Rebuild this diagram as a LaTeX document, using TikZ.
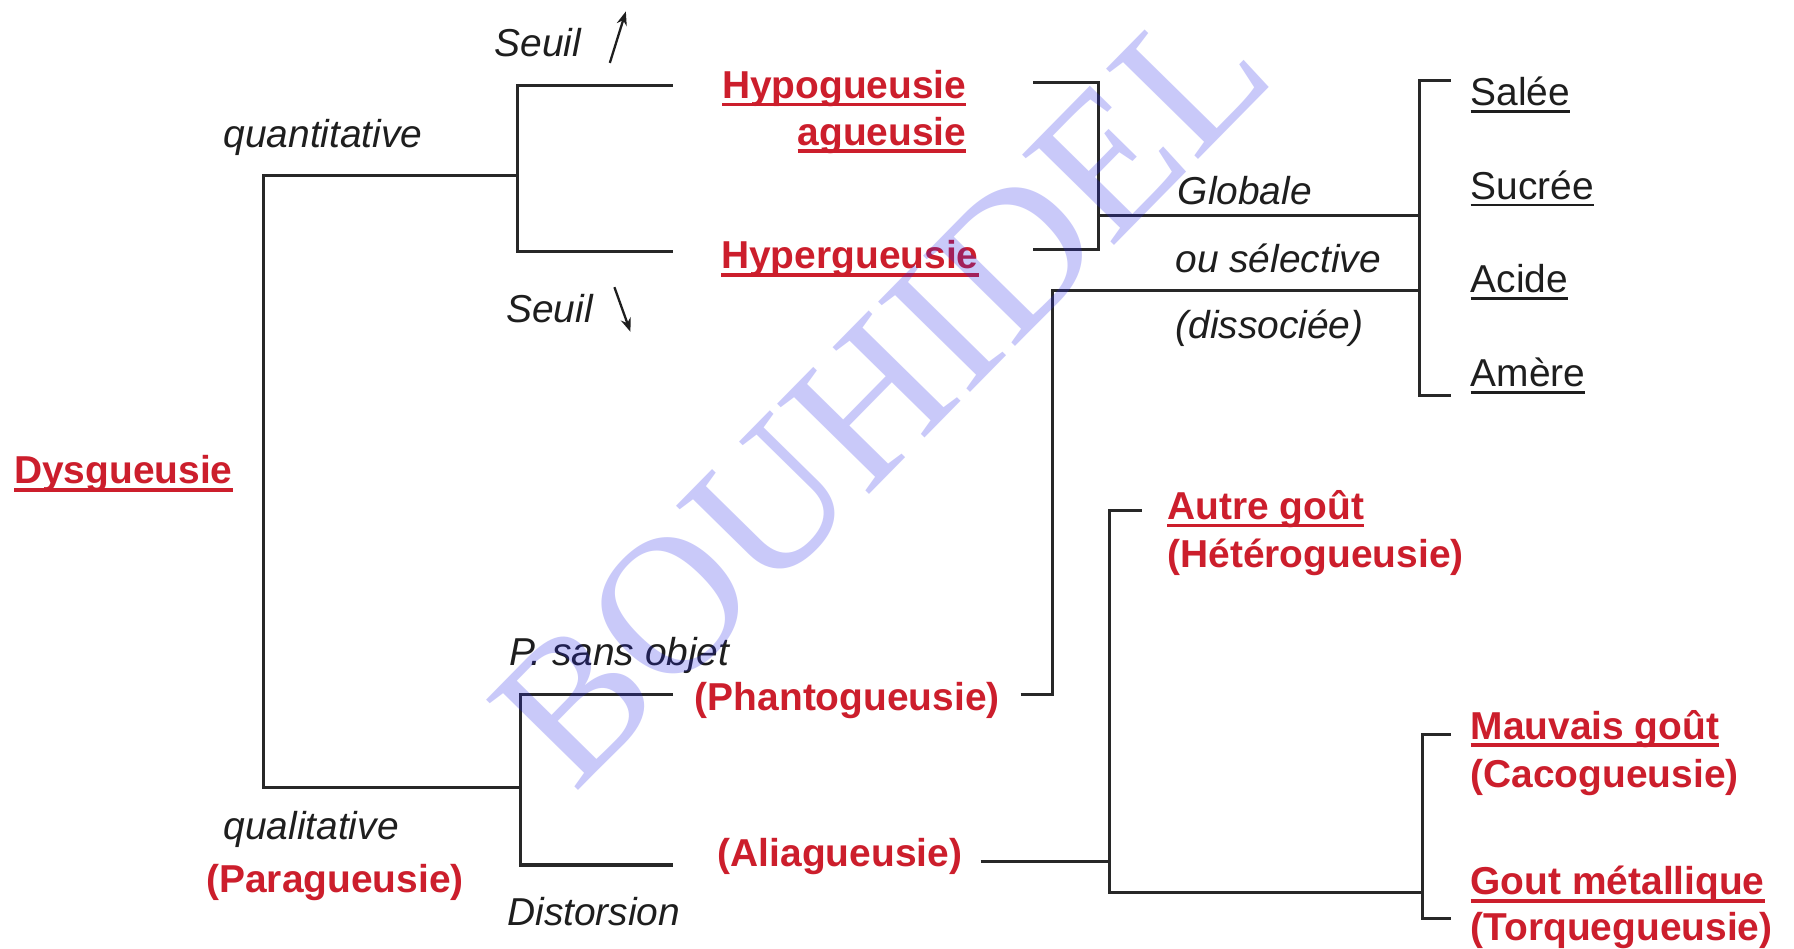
\documentclass[tikz,border=0pt]{standalone}
\usepackage{fontspec}
\setmainfont{Liberation Sans}
\newfontfamily\wmfont{Liberation Serif}
\usetikzlibrary{arrows.meta}
\definecolor{labred}{RGB}{204,30,44}
\definecolor{linegray}{RGB}{40,40,40}
\definecolor{txtgray}{RGB}{30,30,30}
\definecolor{wmblue}{RGB}{40,40,235}
% underlined words: the rule sits just under the baseline
\newcommand\ulred[1]{\setbox0=\hbox{#1}\rlap{\rule[-3.4pt]{\wd0}{1.6pt}}\box0}
\newcommand\ulblk[1]{\setbox0=\hbox{#1}\rlap{\rule[-3.2pt]{\wd0}{1.2pt}}\box0}
\begin{document}
\begin{tikzpicture}[x=0.5pt,y=-0.5pt,
  lbl/.style={inner sep=0pt, anchor=base west},
  note/.style={lbl, font=\fontsize{17}{20}\selectfont\itshape, text=txtgray},
  term/.style={lbl, font=\fontsize{17}{20}\selectfont\bfseries, text=labred},
  taste/.style={lbl, font=\fontsize{17}{20}\selectfont, text=txtgray},
  wire/.style={draw=linegray, line width=1.35pt},
  thresh/.style={draw=txtgray, line width=1pt, -{Stealth[length=6pt,width=4.5pt]}},
  ]
\fill[white] (0,0) rectangle (1568,829);
\useasboundingbox (0,0) rectangle (1568,829);

% ---- labels ----
\node[term] (dys) at (12,423) {\ulred{Dysgueusie}};
\node[note] (quant) at (195,129) {quantitative};
\node[note] (qual) at (195,734) {qualitative};
\node[term] (para) at (180,780) {(Paragueusie)};

\node[note] (seuilU) at (432,49) {Seuil};
\node[note] (seuilD) at (442,282) {Seuil};
\node[term, anchor=base east] (hypo) at (845,86) {\ulred{Hypogueusie}};
\node[term, anchor=base east] (ague) at (845,127) {\ulred{agueusie}};
\node[term] (hyper) at (630,235) {\ulred{Hypergueusie}};

\node[note] (glob) at (1029,179) {Globale};
\node[note] (ousel) at (1027,238) {ou sélective};
\node[note] (disso) at (1027,296) {(dissociée)};

\node[taste] (salee) at (1285,92) {\ulblk{Salée}};
\node[taste] (sucree) at (1285,174) {\ulblk{Sucrée}};
\node[taste] (acide) at (1285,256) {\ulblk{Acide}};
\node[taste] (amere) at (1285,338) {\ulblk{Amère}};

\node[note] (psans) at (445,582) {P. sans objet};
\node[term] (phanto) at (607,621) {(Phantogueusie)};
\node[term] (alia) at (627,757) {(Aliagueusie)};
\node[note] (dist) at (443,809) {Distorsion};

\node[term] (autre) at (1020,454) {\ulred{Autre goût}};
\node[term] (hetero) at (1020,496) {(Hétérogueusie)};
\node[term] (mauv) at (1285,646) {\ulred{Mauvais goût}};
\node[term] (caco) at (1285,688) {(Cacogueusie)};
\node[term] (gout) at (1285,782) {\ulred{Gout métallique}};
\node[term] (torq) at (1285,822) {(Torquegueusie)};

% ---- junction points of the tree ----
\coordinate (rootT) at (230,153);
\coordinate (rootB) at (230,688);
\coordinate (qT) at (452,75);
\coordinate (qM) at (452,153);
\coordinate (qB) at (452,220);
\coordinate (qTe) at (588,75);
\coordinate (qBe) at (588,220);
\coordinate (lT) at (455,607);
\coordinate (lM) at (455,688);
\coordinate (lB) at (455,756);
\coordinate (lTe) at (588,607);
\coordinate (lBe) at (588,756);
\coordinate (hT0) at (903,72);
\coordinate (hT) at (960,72);
\coordinate (hM) at (960,188);
\coordinate (hB) at (960,218);
\coordinate (hB0) at (903,218);
\coordinate (sM1) at (1241,188);
\coordinate (sM2) at (1241,254);
\coordinate (sT) at (1241,70);
\coordinate (sB) at (1241,346);
\coordinate (sTe) at (1268,70);
\coordinate (sBe) at (1268,346);
\coordinate (pE) at (892,607);
\coordinate (pC) at (920,607);
\coordinate (pU) at (920,254);
\coordinate (aE) at (857,753);
\coordinate (aM) at (970,753);
\coordinate (aT) at (970,446);
\coordinate (aTe) at (998,446);
\coordinate (aB) at (970,780);
\coordinate (mM) at (1243,780);
\coordinate (mT) at (1243,642);
\coordinate (mB) at (1243,803);
\coordinate (mTe) at (1268,642);
\coordinate (mBe) at (1268,803);
\coordinate (upA) at (533,55);
\coordinate (upB) at (547,10);
\coordinate (dnA) at (537,251);
\coordinate (dnB) at (551,290);

% ---- connectors ----
\draw[wire] (qM) -- (rootT) -- (rootB) -- (lM);
\draw[wire] (qTe) -- (qT) -- (qB) -- (qBe);
\draw[wire] (lTe) -- (lT) -- (lB) -- (lBe);
\draw[wire] (hT0) -- (hT) -- (hB) -- (hB0);
\draw[wire] (hM) -- (sM1);
\draw[wire] (sTe) -- (sT) -- (sB) -- (sBe);
\draw[wire] (pE) -- (pC) -- (pU) -- (sM2);
\draw[wire] (aE) -- (aM);
\draw[wire] (aTe) -- (aT) -- (aB) -- (mM);
\draw[wire] (mTe) -- (mT) -- (mB) -- (mBe);
\draw[thresh] (upA) -- (upB);
\draw[thresh] (dnA) -- (dnB);

% ---- watermark ----
\node[rotate=45.5, text=wmblue, text opacity=0.25, inner sep=0pt,
      font=\wmfont\fontsize{86}{86}\selectfont] (wm) at (770,342) {BOUHIDEL};
\end{tikzpicture}
\end{document}
